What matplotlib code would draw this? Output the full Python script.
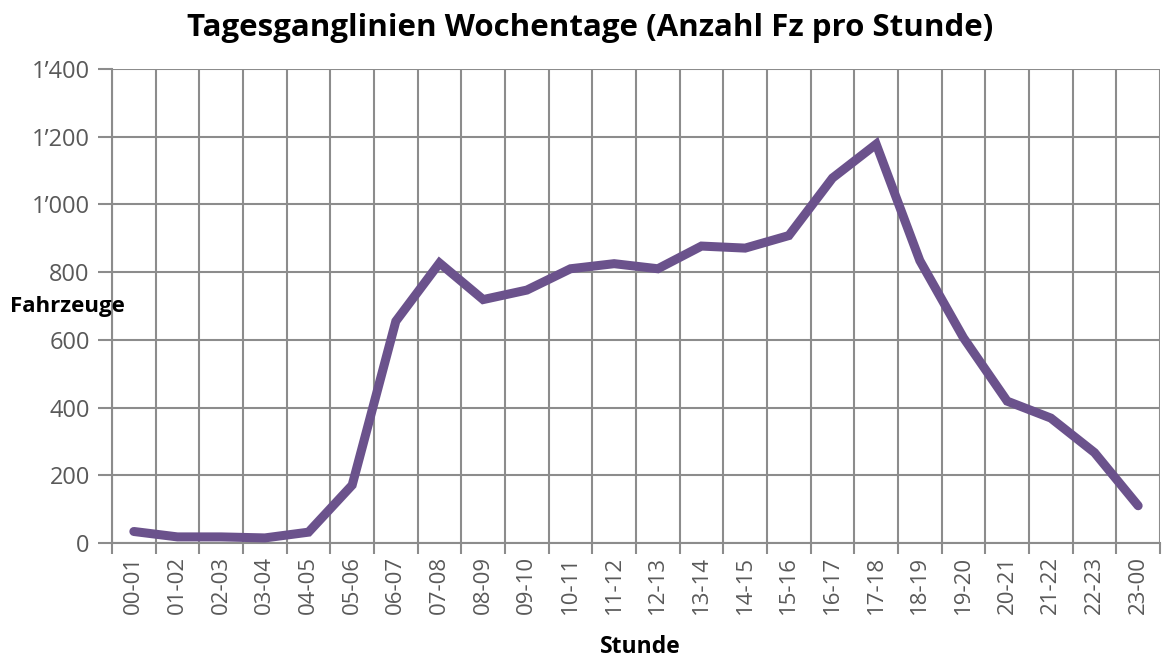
import matplotlib
matplotlib.use("Agg")
import matplotlib.pyplot as plt
from matplotlib.ticker import FuncFormatter, FixedLocator

hours = ["00-01", "01-02", "02-03", "03-04", "04-05", "05-06", "06-07", "07-08",
         "08-09", "09-10", "10-11", "11-12", "12-13", "13-14", "14-15", "15-16",
         "16-17", "17-18", "18-19", "19-20", "20-21", "21-22", "22-23", "23-00"]
vehicles = [34, 18, 18, 15, 32, 171, 655, 827, 719, 747, 810, 825, 810, 877,
            871, 908, 1078, 1178, 834, 606, 419, 369, 267, 110]
yticks = [0, 200, 400, 600, 800, 1000, 1200, 1400]

plt.rcParams['font.family'] = ['Open Sans', 'DejaVu Sans']

fig = plt.figure(figsize=(11.65, 6.59), dpi=100)
ax = fig.add_axes([112/1165, 1-543/659, (1160-112)/1165, (543-69)/659])

x = list(range(len(hours)))
ax.plot(x, vehicles, color="#6B528C", linewidth=6.5, solid_joinstyle="miter",
        solid_capstyle="round", zorder=3)

grid_c = "#8C8C8C"
ax.set_xlim(-0.5, len(hours) - 0.5)
ax.set_ylim(0, 1400)
ax.set_yticks(yticks)
ax.yaxis.set_major_formatter(FuncFormatter(lambda v, p: f"{int(v):,}".replace(",", "\u2019")))
ax.set_xticks(x)
ax.set_xticklabels(hours, rotation=90)
bounds = [i - 0.5 for i in range(len(hours) + 1)]
ax.xaxis.set_minor_locator(FixedLocator(bounds))
ax.tick_params(axis='x', which='major', length=0, pad=9, labelsize=16, labelcolor="#595959")
ax.tick_params(axis='x', which='minor', length=8, color=grid_c, width=1.5)
ax.tick_params(axis='y', length=10, color=grid_c, width=1.5, labelsize=17,
               labelcolor="#595959", pad=6)
ax.grid(True, axis='y', color=grid_c, linewidth=1.5)
ax.grid(True, axis='x', which='minor', color=grid_c, linewidth=1.5)
ax.grid(False, axis='x', which='major')
for s in ["top", "right"]:
    ax.spines[s].set_visible(False)
for s in ["left", "bottom"]:
    ax.spines[s].set_color(grid_c)
    ax.spines[s].set_linewidth(1.5)
ax.set_axisbelow(True)

fig.text(590/1165, 1-28/659, "Tagesganglinien Wochentage (Anzahl Fz pro Stunde)",
         ha="center", va="center", fontsize=22.5, fontweight="bold")
fig.text(10/1165, 1-307/659, "Fahrzeuge", ha="left", va="center",
         fontsize=16, fontweight="bold")
fig.text(640/1165, 1-647/659, "Stunde", ha="center", va="center",
         fontsize=16.5, fontweight="bold")

fig.savefig("out.png", dpi=100)
